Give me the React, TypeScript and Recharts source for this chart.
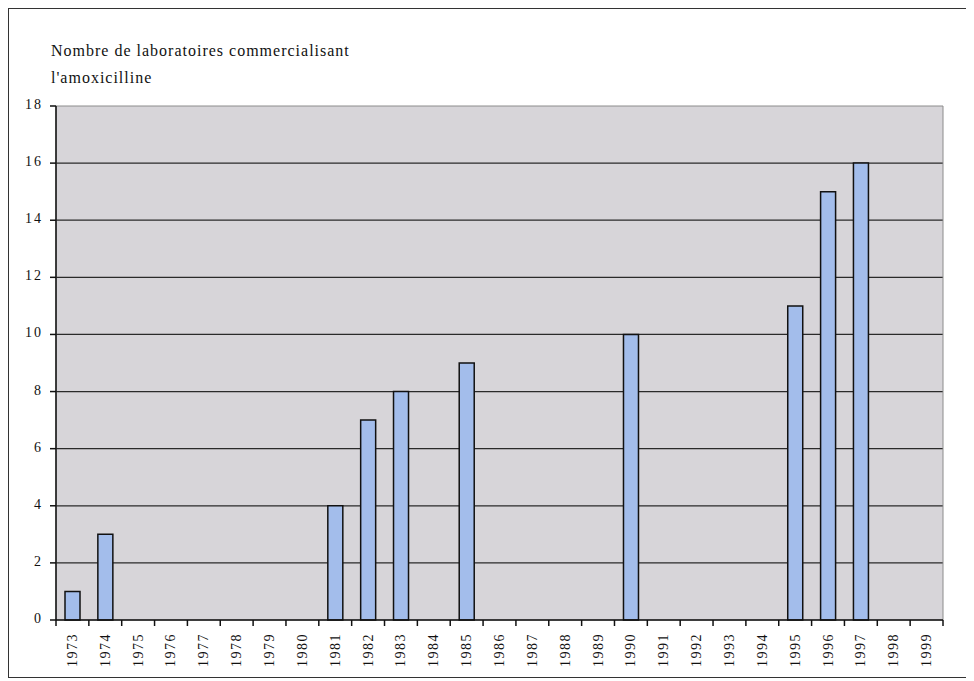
import { BarChart, Bar, XAxis, YAxis, CartesianGrid, ReferenceArea } from "recharts";

const years = [
  "1973", "1974", "1975", "1976", "1977", "1978", "1979", "1980", "1981",
  "1982", "1983", "1984", "1985", "1986", "1987", "1988", "1989", "1990",
  "1991", "1992", "1993", "1994", "1995", "1996", "1997", "1998", "1999",
];
const labCounts = [
  1, 3, 0, 0, 0, 0, 0, 0, 4,
  7, 8, 0, 9, 0, 0, 0, 0, 10,
  0, 0, 0, 0, 11, 15, 16, 0, 0,
];
const yTicks = [0, 2, 4, 6, 8, 10, 12, 14, 16, 18];
const gridValues = [2, 4, 6, 8, 10, 12, 14, 16];

const data = years.map((year, i) => ({ year, value: labCounts[i] || null }));

const W = 960;
const H = 668;
const M = { top: 97, right: 26, left: 0, bottom: 0 };
const Y_W = 47;
const X_H = 57;
const band = (W - Y_W - M.right) / years.length;

const font = "'Liberation Serif', 'Times New Roman', serif";

function YearTick(props: any) {
  const { x, y, payload, index } = props;
  const left = x - band / 2;
  return (
    <g>
      <line x1={left} y1={y} x2={left} y2={y + 6} stroke="#111" strokeWidth={1.5} />
      {index === years.length - 1 && (
        <line x1={x + band / 2} y1={y} x2={x + band / 2} y2={y + 6} stroke="#111" strokeWidth={1.5} />
      )}
      <text
        x={x}
        y={y + 13}
        transform={`rotate(-90 ${x} ${y + 13})`}
        textAnchor="end"
        dominantBaseline="central"
        fontFamily={font}
        fontSize={14}
        letterSpacing={1.5}
        fill="#111"
      >
        {payload.value}
      </text>
    </g>
  );
}

export default function App() {
  return (
    <div
      style={{
        position: "relative",
        width: W,
        height: H,
        border: "1px solid #333",
        background: "#fff",
      }}
    >
      <div
        style={{
          position: "absolute",
          left: 42,
          top: 28,
          fontFamily: font,
          fontSize: 16,
          letterSpacing: 1,
          lineHeight: "27px",
          color: "#111",
        }}
      >
        Nombre de laboratoires commercialisant
        <br />
        l'amoxicilline
      </div>
      <BarChart width={W} height={H} data={data} margin={M} barSize={15}>
        <CartesianGrid
          vertical={false}
          horizontalValues={gridValues}
          fill="#d7d5d9"
          fillOpacity={1}
          stroke="#2a2a2a"
          strokeWidth={1.2}
        />
        <ReferenceArea y1={0} y2={18} fill="none" fillOpacity={0} stroke="#8c8c8c" strokeWidth={1} />
        <XAxis
          dataKey="year"
          height={X_H}
          interval={0}
          tickLine={false}
          tickSize={0}
          tickMargin={0}
          stroke="#111"
          strokeWidth={1.5}
          tick={<YearTick />}
        />
        <YAxis
          width={Y_W}
          domain={[0, 18]}
          ticks={yTicks}
          interval={0}
          stroke="#111"
          strokeWidth={1.5}
          tickSize={6}
          tickMargin={7}
          tick={{ fontFamily: font, fontSize: 14, letterSpacing: 2, fill: "#111", dy: -2 }}
        />
        <Bar dataKey="value" fill="#a3bdeb" stroke="#111" strokeWidth={1.5} isAnimationActive={false} />
      </BarChart>
    </div>
  );
}
